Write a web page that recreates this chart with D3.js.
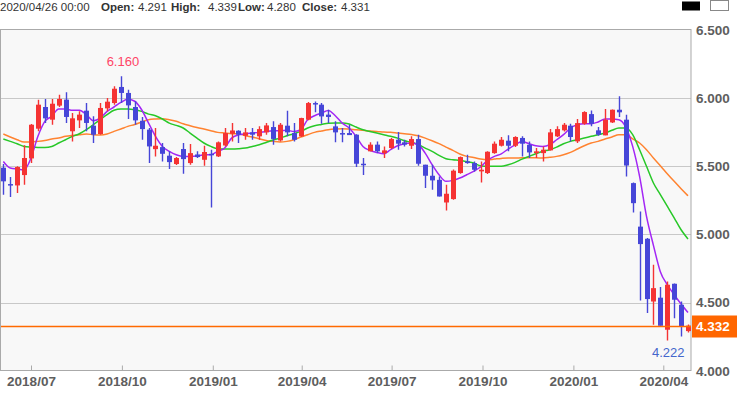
<!DOCTYPE html>
<html>
<head>
<meta charset="utf-8">
<script src="https://cdn.jsdelivr.net/npm/d3@7"></script>
<style>
  html, body { margin: 0; padding: 0; background: #ffffff; }
  svg { display: block; }
</style>
</head>
<body>
<div id="chart"></div>
<script>
// weekly candles, first week 2018/06/03
var firstWeek = new Date(2018, 5, 3);

var opens  = [5.489,5.369,5.359,5.435,5.557,5.775,5.934,5.841,5.944,5.988,
              5.756,5.836,5.907,5.797,5.736,5.924,5.963,6.081,6.037,5.934,
              5.833,5.768,5.625,5.640,5.577,5.516,5.626,5.523,5.586,5.547,
              5.591,5.572,5.652,5.738,5.760,5.723,5.748,5.719,5.748,5.787,
              5.689,5.797,5.743,5.719,5.841,5.963,5.951,5.878,5.792,5.743,
              5.743,5.731,5.518,5.609,5.658,5.596,5.633,5.694,5.675,5.650,
              5.699,5.511,5.430,5.400,5.234,5.259,5.450,5.535,5.523,5.462,
              5.450,5.596,5.650,5.687,5.650,5.707,5.657,5.596,5.596,5.616,
              5.719,5.763,5.797,5.682,5.811,5.882,5.763,5.726,5.821,5.914,
              5.841,5.376,5.057,4.968,4.508,4.536,4.301,4.638,4.484,4.291];
var highs  = [5.516,5.420,5.500,5.653,5.810,5.988,5.993,5.993,6.024,6.042,
              5.890,5.902,5.963,5.866,5.963,6.000,6.086,6.160,6.061,5.976,
              5.860,5.780,5.780,5.670,5.609,5.567,5.670,5.662,5.609,5.650,
              5.621,5.682,5.780,5.816,5.763,5.780,5.780,5.792,5.816,5.829,
              5.816,5.907,5.816,5.855,5.970,5.975,5.963,5.914,5.829,5.780,
              5.804,5.735,5.560,5.675,5.682,5.645,5.706,5.750,5.694,5.719,
              5.731,5.511,5.511,5.425,5.364,5.475,5.572,5.584,5.535,5.535,
              5.609,5.682,5.714,5.726,5.719,5.719,5.682,5.633,5.645,5.772,
              5.792,5.816,5.811,5.846,5.902,5.909,5.787,5.919,5.916,6.012,
              5.878,5.380,5.168,4.973,4.777,4.614,4.655,4.640,4.508,4.339];
var lows   = [5.291,5.274,5.303,5.364,5.523,5.756,5.817,5.804,5.934,5.817,
              5.682,5.780,5.756,5.670,5.730,5.902,5.951,5.963,5.846,5.804,
              5.694,5.523,5.572,5.535,5.479,5.508,5.445,5.511,5.560,5.503,
              5.198,5.567,5.645,5.682,5.670,5.694,5.694,5.694,5.731,5.657,
              5.682,5.719,5.682,5.714,5.836,5.895,5.811,5.816,5.675,5.675,
              5.728,5.494,5.435,5.609,5.597,5.560,5.626,5.621,5.645,5.626,
              5.503,5.340,5.327,5.278,5.176,5.254,5.445,5.518,5.462,5.381,
              5.443,5.592,5.645,5.609,5.640,5.572,5.560,5.560,5.535,5.616,
              5.714,5.755,5.682,5.670,5.804,5.792,5.723,5.726,5.816,5.860,
              5.425,5.161,4.515,4.423,4.337,4.330,4.222,4.386,4.252,4.280];
var closes = [5.389,5.362,5.494,5.560,5.804,5.951,5.851,5.958,5.993,5.861,
              5.851,5.878,5.817,5.731,5.927,5.973,6.068,6.037,5.946,5.836,
              5.772,5.645,5.650,5.591,5.530,5.560,5.552,5.596,5.567,5.604,
              5.582,5.675,5.743,5.762,5.731,5.748,5.731,5.772,5.799,5.700,
              5.804,5.748,5.694,5.853,5.963,5.953,5.865,5.861,5.748,5.738,
              5.728,5.518,5.508,5.658,5.609,5.616,5.699,5.665,5.658,5.699,
              5.518,5.430,5.396,5.278,5.298,5.467,5.567,5.523,5.474,5.474,
              5.606,5.665,5.694,5.650,5.714,5.665,5.601,5.609,5.621,5.748,
              5.772,5.804,5.714,5.816,5.897,5.811,5.731,5.841,5.914,5.895,
              5.505,5.229,4.929,4.526,4.606,4.330,4.631,4.521,4.325,4.331];

// moving averages, one value per candle
var maShort = [5.535,5.487,5.479,5.474,5.560,5.719,5.829,5.866,5.919,5.919,
               5.910,5.910,5.878,5.834,5.853,5.902,5.934,5.968,5.990,5.976,
               5.914,5.816,5.719,5.645,5.609,5.584,5.572,5.572,5.574,5.584,
               5.584,5.609,5.633,5.706,5.730,5.738,5.743,5.748,5.755,5.760,
               5.760,5.763,5.755,5.767,5.841,5.870,5.890,5.909,5.870,5.816,
               5.780,5.719,5.645,5.616,5.601,5.591,5.621,5.650,5.665,5.670,
               5.657,5.596,5.511,5.437,5.389,5.396,5.413,5.437,5.462,5.494,
               5.543,5.572,5.591,5.626,5.657,5.682,5.665,5.650,5.645,5.657,
               5.694,5.731,5.780,5.804,5.811,5.811,5.824,5.846,5.846,5.841,
               5.787,5.645,5.425,5.132,4.920,4.727,4.631,4.558,4.490,4.427];
var maMid   = [5.699,5.682,5.665,5.645,5.640,5.638,5.638,5.645,5.670,5.694,
               5.719,5.738,5.768,5.804,5.841,5.878,5.910,5.919,5.919,5.914,
               5.902,5.882,5.870,5.846,5.816,5.799,5.780,5.743,5.706,5.670,
               5.645,5.628,5.626,5.626,5.628,5.633,5.645,5.657,5.674,5.692,
               5.706,5.723,5.738,5.755,5.780,5.797,5.806,5.814,5.816,5.816,
               5.809,5.787,5.767,5.755,5.743,5.731,5.719,5.706,5.686,5.675,
               5.657,5.633,5.609,5.579,5.555,5.547,5.543,5.533,5.523,5.503,
               5.499,5.499,5.499,5.511,5.528,5.552,5.572,5.591,5.609,5.621,
               5.640,5.665,5.682,5.694,5.706,5.719,5.731,5.743,5.763,5.780,
               5.780,5.731,5.621,5.499,5.377,5.292,5.207,5.122,5.034,4.966];
var maLong  = [5.736,5.714,5.694,5.677,5.677,5.682,5.689,5.699,5.707,5.719,
               5.726,5.731,5.736,5.731,5.729,5.736,5.755,5.773,5.792,5.806,
               5.824,5.841,5.846,5.848,5.841,5.829,5.811,5.797,5.784,5.772,
               5.760,5.748,5.743,5.738,5.738,5.723,5.714,5.701,5.689,5.682,
               5.677,5.682,5.694,5.714,5.731,5.748,5.758,5.767,5.772,5.775,
               5.772,5.767,5.763,5.758,5.755,5.750,5.748,5.743,5.738,5.733,
               5.723,5.706,5.687,5.665,5.640,5.616,5.589,5.572,5.564,5.552,
               5.547,5.552,5.557,5.560,5.560,5.562,5.562,5.562,5.560,5.565,
               5.572,5.584,5.601,5.626,5.650,5.670,5.682,5.699,5.714,5.731,
               5.731,5.700,5.670,5.621,5.560,5.504,5.445,5.389,5.335,5.283];

var yTicks = [4.0, 4.5, 5.0, 5.5, 6.0, 6.5];
var lastPrice = 4.332;
var headerDate = "2020/04/26 00:00";
var headerLabels = ["Open:", "High:", "Low:", "Close:"];
var headerValues = ["4.291", "4.339", "4.280", "4.331"];

var width = 737, height = 393;
var plotLeft = 1, plotRight = 691, plotTop = 29.5, plotBottom = 370.5;

var colUp = "#f53333", colDown = "#4646d8";

var dates = opens.map(function(d, i) { return d3.timeDay.offset(firstWeek, 7 * i); });
var candles = opens.map(function(o, i) {
  return {date: dates[i], o: o, h: highs[i], l: lows[i], c: closes[i]};
});

var x = d3.scaleTime()
  .domain([new Date(2018, 6, 1), new Date(2020, 3, 26)])
  .range([31, 688]);
var y = d3.scaleLinear().domain([4.0, 6.5]).range([370.8, 29.8]);

var svg = d3.select("#chart").append("svg")
  .attr("width", width)
  .attr("height", height);

svg.append("defs").append("clipPath").attr("id", "plotclip")
  .append("rect")
  .attr("x", plotLeft).attr("y", plotTop)
  .attr("width", plotRight - plotLeft).attr("height", plotBottom - plotTop);

// plot background
svg.append("rect")
  .attr("x", plotLeft).attr("y", plotTop)
  .attr("width", plotRight - plotLeft).attr("height", plotBottom - plotTop)
  .attr("fill", "#f8f8f8");

// grid
svg.selectAll("line.grid")
  .data(yTicks.filter(function(d) { return d > 4.0 && d < 6.5; }))
  .enter().append("line")
    .attr("class", "grid")
    .attr("x1", plotLeft).attr("x2", plotRight)
    .attr("y1", function(d) { return Math.round(y(d)) + 0.5; })
    .attr("y2", function(d) { return Math.round(y(d)) + 0.5; })
    .attr("stroke", "#c8c8c8")
    .attr("stroke-width", 1);

// x axis (ticks inside, labels below)
var xAxis = d3.axisBottom(x)
  .ticks(d3.timeMonth.every(3))
  .tickFormat(d3.timeFormat("%Y/%m"))
  .tickSize(-5)
  .tickSizeOuter(0)
  .tickPadding(6);
var gx = svg.append("g")
  .attr("transform", "translate(0," + plotBottom + ")")
  .call(xAxis);
gx.select(".domain").remove();
gx.selectAll(".tick").filter(function(d) { return x(d) < plotLeft || x(d) > plotRight; }).remove();
gx.selectAll(".tick line").attr("stroke", "#aaaaaa");
gx.selectAll(".tick text")
  .attr("fill", "#5e5e5e")
  .style("font-family", "'Liberation Sans', Arial, sans-serif")
  .style("font-size", "13.5px")
  .style("font-weight", "bold");

// y axis on the right
var yAxis = d3.axisRight(y)
  .tickValues(yTicks)
  .tickFormat(d3.format(".3f"))
  .tickSize(0)
  .tickPadding(5);
var gy = svg.append("g")
  .attr("transform", "translate(" + plotRight + ",0)")
  .call(yAxis);
gy.select(".domain").remove();
gy.selectAll(".tick text")
  .attr("fill", "#5e5e5e")
  .style("font-family", "'Liberation Sans', Arial, sans-serif")
  .style("font-size", "13.5px")
  .style("font-weight", "bold");

// frame
svg.append("rect")
  .attr("x", plotLeft - 0.5).attr("y", plotTop)
  .attr("width", plotRight - plotLeft + 0.5).attr("height", plotBottom - plotTop)
  .attr("fill", "none")
  .attr("stroke", "#aaaaaa")
  .attr("stroke-width", 1);

var plot = svg.append("g").attr("clip-path", "url(#plotclip)");

// moving averages
var maLine = function(vals) {
  return d3.line()
    .x(function(d, i) { return x(dates[i]); })
    .y(function(d) { return y(d); })
    .curve(d3.curveMonotoneX)(vals);
};
plot.append("path").attr("d", maLine(maLong))
  .attr("fill", "none").attr("stroke", "#ff8330").attr("stroke-width", 1.5);
plot.append("path").attr("d", maLine(maMid))
  .attr("fill", "none").attr("stroke", "#28c828").attr("stroke-width", 1.5);
plot.append("path").attr("d", maLine(maShort))
  .attr("fill", "none").attr("stroke", "#a326f5").attr("stroke-width", 1.5);

// candles
var cg = plot.selectAll("g.candle")
  .data(candles)
  .enter().append("g")
    .attr("class", "candle");
cg.append("line")
  .attr("x1", function(d) { return Math.round(x(d.date)) + 0.5; })
  .attr("x2", function(d) { return Math.round(x(d.date)) + 0.5; })
  .attr("y1", function(d) { return y(d.h); })
  .attr("y2", function(d) { return y(d.l); })
  .attr("stroke", function(d) { return d.c >= d.o ? colUp : colDown; })
  .attr("stroke-width", 1.4);
cg.append("rect")
  .attr("x", function(d) { return Math.round(x(d.date)) - 2; })
  .attr("y", function(d) { return y(Math.max(d.o, d.c)); })
  .attr("width", 5)
  .attr("height", function(d) { return Math.max(1.5, Math.abs(y(d.o) - y(d.c))); })
  .attr("fill", function(d) { return d.c >= d.o ? colUp : colDown; });

// last price line + tag
var lastY = Math.round(y(lastPrice)) + 0.5;
svg.append("path")
  .attr("d", "M" + plotLeft + "," + lastY + "H" + plotRight)
  .style("stroke", "#ff6a00")
  .style("stroke-width", "1.3px")
  .style("fill", "none");
svg.append("rect")
  .attr("x", plotRight + 1).attr("y", lastY - 11)
  .attr("width", width - plotRight - 1).attr("height", 22)
  .attr("fill", "#ff6600");
svg.append("text")
  .attr("x", plotRight + 5).attr("y", lastY + 4.5)
  .attr("fill", "#ffffff")
  .style("font-family", "'Liberation Sans', Arial, sans-serif")
  .style("font-size", "13.5px")
  .style("font-weight", "bold")
  .text(d3.format(".3f")(lastPrice));

// high / low annotations
var hiIdx = d3.maxIndex(highs), loIdx = d3.minIndex(lows);
svg.append("text")
  .attr("x", x(dates[hiIdx]) + 2).attr("y", y(highs[hiIdx]) - 10)
  .attr("text-anchor", "middle")
  .attr("fill", "#ff4466")
  .style("font-family", "'Liberation Sans', Arial, sans-serif")
  .style("font-size", "13px")
  .text(d3.format(".3f")(highs[hiIdx]));
svg.append("text")
  .attr("x", x(dates[loIdx]) + 1).attr("y", y(lows[loIdx]) + 16)
  .attr("text-anchor", "middle")
  .attr("fill", "#4466cc")
  .style("font-family", "'Liberation Sans', Arial, sans-serif")
  .style("font-size", "13px")
  .text(d3.format(".3f")(lows[loIdx]));

// header line
var labelX = [101, 171, 238, 302], valueX = [138, 208, 267, 341];
var ht = svg.append("text")
  .attr("y", 11)
  .attr("fill", "#333333")
  .style("font-family", "'Liberation Sans', Arial, sans-serif")
  .style("font-size", "11.5px");
ht.append("tspan").attr("x", 0).text(headerDate);
headerLabels.forEach(function(lab, i) {
  ht.append("tspan").attr("x", labelX[i]).style("font-weight", "bold").text(lab);
  ht.append("tspan").attr("x", valueX[i]).text(headerValues[i]);
});

// colour toggles top right
svg.append("rect")
  .attr("x", 682).attr("y", 1.5).attr("width", 18).attr("height", 9)
  .attr("fill", "#000000");
svg.append("rect")
  .attr("x", 710.5).attr("y", 0.5).attr("width", 18).attr("height", 10)
  .attr("fill", "#ffffff").attr("stroke", "#888888");
</script>
</body>
</html>
